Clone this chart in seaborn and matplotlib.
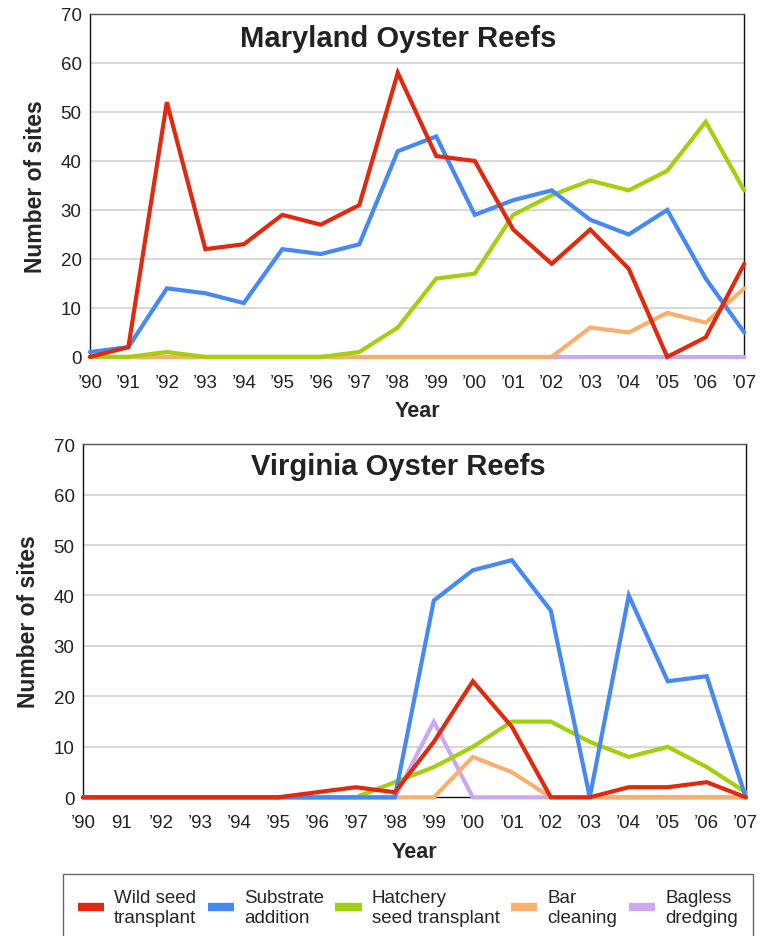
import matplotlib
matplotlib.use("Agg")
import matplotlib.pyplot as plt
import seaborn as sns
import pandas as pd
import numpy as np

# years and tick labels
years = list(range(1990, 2008))
md_ticks = ["’90", "’91", "’92", "’93", "’94", "’95", "’96", "’97", "’98",
            "’99", "’00", "’01", "’02", "’03", "’04", "’05", "’06", "’07"]
va_ticks = ["’90", "91", "’92", "’93", "’94", "’95", "’96", "’97", "’98",
            "’99", "’00", "’01", "’02", "’03", "’04", "’05", "’06", "’07"]

series = ["Wild seed\ntransplant", "Substrate\naddition", "Hatchery\nseed transplant",
          "Bar\ncleaning", "Bagless\ndredging"]
colors = ["#E3290D", "#4689F6", "#A3D00C", "#F9B06C", "#CDA8F2"]

# Maryland
md_wild = [0, 2, 52, 22, 23, 29, 27, 31, 58, 41, 40, 26, 19, 26, 18, 0, 4, 19]
md_substrate = [1, 2, 14, 13, 11, 22, 21, 23, 42, 45, 29, 32, 34, 28, 25, 30, 16, 5]
md_hatchery = [0, 0, 1, 0, 0, 0, 0, 1, 6, 16, 17, 29, 33, 36, 34, 38, 48, 34]
md_bar = [0, 0, 0, 0, 0, 0, 0, 0, 0, 0, 0, 0, 0, 6, 5, 9, 7, 14]
md_bagless = [0, 0, 0, 0, 0, 0, 0, 0, 0, 0, 0, 0, 0, 0, 0, 0, 0, 0]

# Virginia
va_wild = [0, 0, 0, 0, 0, 0, 1, 2, 1, 11, 23, 14, 0, 0, 2, 2, 3, 0]
va_substrate = [0, 0, 0, 0, 0, 0, 0, 0, 0, 39, 45, 47, 37, 0, 40, 23, 24, 0]
va_hatchery = [0, 0, 0, 0, 0, 0, 0, 0, 3, 6, 10, 15, 15, 11, 8, 10, 6, 1]
va_bar = [0, 0, 0, 0, 0, 0, 0, 0, 0, 0, 8, 5, 0, 0, 0, 0, 0, 0]
va_bagless = [0, 0, 0, 0, 0, 0, 0, 0, 0, 15, 0, 0, 0, 0, 0, 0, 0, 0]

sns.set_style("white")
plt.rcParams['font.family'] = ['Liberation Sans', 'DejaVu Sans']

fig = plt.figure(figsize=(7.68, 9.37), dpi=100)
ax1 = fig.add_axes([0.117, 0.618, 0.852, 0.366])
ax2 = fig.add_axes([0.108, 0.148, 0.863, 0.377])


def draw(ax, data, ticks, title, title_y):
    # draw bottom-most first, red on top
    for i in [4, 3, 2, 1, 0]:
        sns.lineplot(x=years, y=data[i], ax=ax, color=colors[i], linewidth=3.0,
                     label=series[i], clip_on=False, zorder=3 + (4 - i),
                     solid_joinstyle="miter")
    ax.set_xlim(1990, 2007)
    ax.set_ylim(0, 70)
    ax.set_yticks(range(0, 80, 10))
    ax.set_xticks(years)
    ax.set_xticklabels(ticks)
    ax.tick_params(axis="both", labelsize=13.5, colors="#222222", length=4,
                   width=1, direction="out", pad=8)
    ax.tick_params(axis="y", pad=2)
    for y in range(10, 70, 10):
        ax.axhline(y, color="#d4d4d4", linewidth=1.3, zorder=1)
    ax.spines["left"].set_color("#111111")
    ax.spines["bottom"].set_color("#111111")
    ax.spines["top"].set_color("#555555")
    ax.spines["right"].set_color("#111111")
    for s in ax.spines.values():
        s.set_linewidth(1.0)
    ax.set_ylabel("Number of sites", fontsize=16.5, fontweight="bold", labelpad=10)
    ax.set_xlabel("Year", fontsize=15.5, fontweight="bold", labelpad=7)
    ax.get_legend().remove()
    fig.text(0.519, title_y, title, fontsize=21, fontweight="bold",
             color="#222222", ha="center", va="center")


draw(ax1, [md_wild, md_substrate, md_hatchery, md_bar, md_bagless],
     md_ticks, "Maryland Oyster Reefs", 1 - 39 / 937)
draw(ax2, [va_wild, va_substrate, va_hatchery, va_bar, va_bagless],
     va_ticks, "Virginia Oyster Reefs", 1 - 467 / 937)

handles, labels = ax1.get_legend_handles_labels()
order = [labels.index(s) for s in series]
leg = fig.legend([handles[i] for i in order], [labels[i] for i in order],
                 loc="upper center", bbox_to_anchor=(0.531, 1 - 875 / 937),
                 borderaxespad=0, ncol=5, frameon=True, fontsize=13.5,
                 handlelength=1.4, columnspacing=0.6, handletextpad=0.55,
                 borderpad=0.8, fancybox=False, labelspacing=0.25)
leg.get_frame().set_edgecolor("#444444")
leg.get_frame().set_linewidth(1.0)
for h in leg.legend_handles:
    h.set_linewidth(6)
    h.set_solid_capstyle("butt")

fig.savefig("out.png", dpi=100)
